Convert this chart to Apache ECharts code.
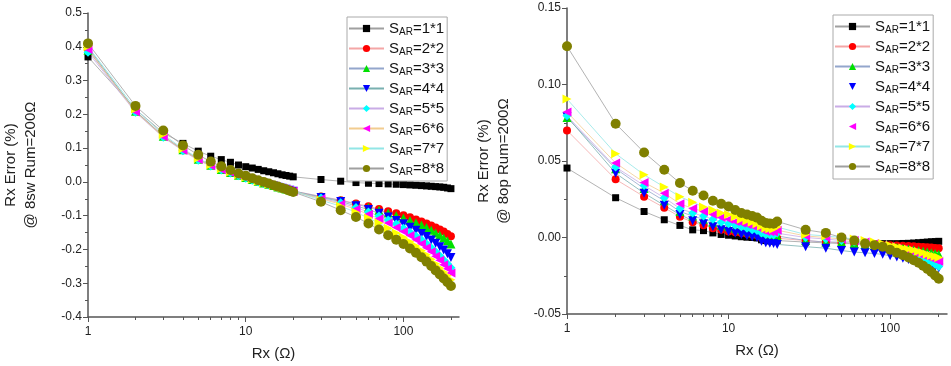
<!DOCTYPE html>
<html>
<head>
<meta charset="utf-8">
<script src="https://cdn.jsdelivr.net/npm/echarts@6/dist/echarts.min.js"></script>
<style>
  html, body { margin: 0; background: #fff; }
  #chart { width: 951px; height: 366px; }
</style>
</head>
<body>
<div id="chart"></div>
<script>
// Rx values (ohm)
const rx = [1, 2, 3, 4, 5, 6, 7, 8, 9, 10, 11, 12, 13, 14, 15, 16, 17, 18, 19, 20,
  30, 40, 50, 60, 70, 80, 90, 100, 110, 120, 130, 140, 150, 160, 170, 180, 190, 200];

const names = ["SAR=1*1", "SAR=2*2", "SAR=3*3", "SAR=4*4", "SAR=5*5", "SAR=6*6", "SAR=7*7", "SAR=8*8"];

// left chart: @ 8sw
const sw11 = [0.370, 0.215, 0.145, 0.114, 0.091, 0.076, 0.066, 0.058, 0.050, 0.045, 0.041, 0.037, 0.033, 0.030, 0.027, 0.024, 0.021, 0.019, 0.017, 0.015,
  0.007, 0.002, -0.002, -0.004, -0.005, -0.006, -0.007, -0.008, -0.009, -0.010, -0.011, -0.012, -0.013, -0.014, -0.015, -0.016, -0.018, -0.020];
const sw22 = [0.393, 0.211, 0.136, 0.096, 0.068, 0.050, 0.038, 0.029, 0.021, 0.014, 0.008, 0.003, -0.002, -0.006, -0.010, -0.014, -0.018, -0.021, -0.024, -0.027,
  -0.043, -0.054, -0.064, -0.072, -0.080, -0.087, -0.093, -0.099, -0.105, -0.111, -0.117, -0.123, -0.129, -0.135, -0.141, -0.147, -0.154, -0.161];
const sw33 = [0.390, 0.209, 0.135, 0.095, 0.067, 0.049, 0.037, 0.028, 0.020, 0.013, 0.007, 0.002, -0.003, -0.007, -0.011, -0.015, -0.018, -0.021, -0.024, -0.027,
  -0.044, -0.055, -0.066, -0.075, -0.084, -0.092, -0.100, -0.107, -0.114, -0.121, -0.128, -0.135, -0.143, -0.151, -0.158, -0.166, -0.174, -0.184];
const sw44 = [0.398, 0.210, 0.134, 0.094, 0.066, 0.048, 0.036, 0.027, 0.019, 0.012, 0.006, 0.001, -0.004, -0.008, -0.012, -0.016, -0.019, -0.022, -0.025, -0.028,
  -0.046, -0.058, -0.071, -0.082, -0.093, -0.104, -0.114, -0.124, -0.134, -0.143, -0.153, -0.162, -0.172, -0.182, -0.192, -0.202, -0.213, -0.224];
const sw55 = [0.384, 0.206, 0.132, 0.092, 0.064, 0.047, 0.035, 0.026, 0.018, 0.011, 0.005, 0.000, -0.005, -0.009, -0.013, -0.017, -0.020, -0.023, -0.026, -0.029,
  -0.048, -0.062, -0.076, -0.089, -0.101, -0.113, -0.125, -0.137, -0.149, -0.160, -0.171, -0.183, -0.195, -0.207, -0.219, -0.231, -0.242, -0.254];
const sw66 = [0.392, 0.208, 0.134, 0.094, 0.066, 0.048, 0.036, 0.027, 0.019, 0.012, 0.006, 0.001, -0.004, -0.008, -0.012, -0.016, -0.019, -0.022, -0.025, -0.028,
  -0.050, -0.066, -0.081, -0.096, -0.109, -0.122, -0.135, -0.147, -0.159, -0.171, -0.183, -0.195, -0.207, -0.220, -0.232, -0.245, -0.257, -0.270];
const sw77 = [0.401, 0.216, 0.140, 0.098, 0.070, 0.051, 0.039, 0.029, 0.021, 0.014, 0.008, 0.003, -0.002, -0.006, -0.010, -0.014, -0.018, -0.021, -0.024, -0.027,
  -0.054, -0.072, -0.090, -0.107, -0.122, -0.137, -0.151, -0.164, -0.177, -0.190, -0.203, -0.216, -0.229, -0.242, -0.255, -0.267, -0.278, -0.290];
const sw88 = [0.410, 0.225, 0.152, 0.108, 0.080, 0.060, 0.046, 0.035, 0.025, 0.018, 0.011, 0.005, 0.000, -0.005, -0.010, -0.014, -0.018, -0.022, -0.026, -0.030,
  -0.059, -0.084, -0.104, -0.123, -0.141, -0.158, -0.171, -0.184, -0.197, -0.210, -0.223, -0.236, -0.249, -0.262, -0.274, -0.286, -0.297, -0.308];

// right chart: @ 8op
const op11 = [0.0454, 0.026, 0.017, 0.0116, 0.0079, 0.005, 0.0045, 0.003, 0.002, 0.0015, 0.001, 0.0005, 0.0002, 0.0, -0.0003, -0.0015, -0.002, -0.0022, -0.0023, -0.002,
  -0.003, -0.0035, -0.004, -0.004, -0.004, -0.004, -0.004, -0.004, -0.004, -0.0039, -0.0038, -0.0036, -0.0034, -0.0032, -0.003, -0.0028, -0.0027, -0.0025];
const op22 = [0.070, 0.038, 0.0267, 0.0195, 0.0135, 0.010, 0.008, 0.006, 0.005, 0.004, 0.0035, 0.003, 0.0025, 0.002, 0.0015, 0.0, -0.001, -0.0012, -0.0013, -0.0005,
  -0.002, -0.003, -0.0035, -0.004, -0.0045, -0.0045, -0.005, -0.005, -0.0052, -0.0054, -0.0056, -0.0058, -0.006, -0.0062, -0.0064, -0.0066, -0.0068, -0.007];
const op33 = [0.0785, 0.045, 0.032, 0.024, 0.017, 0.014, 0.012, 0.010, 0.008, 0.007, 0.006, 0.005, 0.0042, 0.0035, 0.003, 0.0015, 0.0005, 0.0003, 0.0002, 0.001,
  -0.002, -0.003, -0.003, -0.004, -0.0045, -0.005, -0.0055, -0.006, -0.0065, -0.007, -0.0075, -0.008, -0.0085, -0.009, -0.0095, -0.010, -0.0105, -0.011];
const op44 = [0.079, 0.042, 0.029, 0.021, 0.015, 0.011, 0.009, 0.007, 0.005, 0.004, 0.003, 0.002, 0.0012, 0.0005, 0.0, -0.0025, -0.0035, -0.0038, -0.004, -0.0045,
  -0.006, -0.007, -0.0085, -0.0095, -0.010, -0.0105, -0.011, -0.012, -0.0128, -0.0136, -0.0144, -0.0152, -0.016, -0.0168, -0.0176, -0.0184, -0.0192, -0.020];
const op55 = [0.0795, 0.046, 0.034, 0.026, 0.019, 0.016, 0.014, 0.012, 0.010, 0.009, 0.008, 0.007, 0.006, 0.005, 0.0045, 0.003, 0.002, 0.0018, 0.0016, 0.0028,
  0.0, -0.001, -0.002, -0.003, -0.004, -0.005, -0.006, -0.007, -0.008, -0.0091, -0.0102, -0.0113, -0.0125, -0.0138, -0.015, -0.0163, -0.0176, -0.019];
const op66 = [0.082, 0.0487, 0.036, 0.029, 0.022, 0.019, 0.017, 0.015, 0.013, 0.012, 0.0105, 0.0095, 0.0085, 0.0075, 0.0068, 0.005, 0.004, 0.0038, 0.0036, 0.0048,
  0.001, 0.0, -0.001, -0.002, -0.003, -0.004, -0.005, -0.006, -0.007, -0.0079, -0.0088, -0.0098, -0.0108, -0.0118, -0.0128, -0.0138, -0.0147, -0.0156];
const op77 = [0.0905, 0.0548, 0.041, 0.033, 0.0267, 0.023, 0.020, 0.018, 0.016, 0.015, 0.0135, 0.012, 0.011, 0.010, 0.009, 0.0075, 0.006, 0.0058, 0.0055, 0.0068,
  0.002, 0.001, 0.0, -0.001, -0.002, -0.003, -0.004, -0.005, -0.006, -0.0068, -0.0076, -0.0084, -0.0092, -0.010, -0.0109, -0.0117, -0.0124, -0.013];
const op88 = [0.125, 0.0744, 0.0556, 0.0443, 0.0356, 0.0306, 0.0275, 0.024, 0.022, 0.0203, 0.018, 0.016, 0.015, 0.014, 0.013, 0.011, 0.0095, 0.0092, 0.009, 0.0105,
  0.005, 0.003, 0.0, -0.002, -0.004, -0.005, -0.006, -0.008, -0.010, -0.0115, -0.013, -0.0148, -0.0165, -0.0185, -0.0205, -0.0225, -0.0248, -0.027];

// axis ticks
const majorTicks = [1, 10, 100];
const minorTicks = [2, 3, 4, 5, 6, 7, 8, 9, 20, 30, 40, 50, 60, 70, 80, 90, 200];

const swSeries = [sw11, sw22, sw33, sw44, sw55, sw66, sw77, sw88];
const opSeries = [op11, op22, op33, op44, op55, op66, op77, op88];

// marker look per series
const marks = [
  { symbol: "rect", rotate: 0, size: 7, color: "#000000", line: "#a0a0a0" },
  { symbol: "circle", rotate: 0, size: 8, color: "#ff0000", line: "#f4a6a6" },
  { symbol: "triangle", rotate: 0, size: 9, color: "#00e000", line: "#93a6cc" },
  { symbol: "triangle", rotate: 180, size: 9, color: "#0000ff", line: "#79b0b0" },
  { symbol: "diamond", rotate: 0, size: 9, color: "#00ffff", line: "#c9ace6" },
  { symbol: "triangle", rotate: 90, size: 9, color: "#ff00ff", line: "#f2cc8f" },
  { symbol: "triangle", rotate: -90, size: 9, color: "#ffff00", line: "#92e6e6" },
  { symbol: "circle", rotate: 0, size: 10, color: "#808000", line: "#a0a0a0" }
];

const FONT = "Liberation Sans, Arial, sans-serif";

function makeSeries(list, idx) {
  return list.map((vals, i) => ({
    name: names[i],
    type: "line",
    xAxisIndex: idx * 2,
    yAxisIndex: idx,
    data: rx.map((x, j) => [x, vals[j]]),
    symbol: marks[i].symbol,
    symbolSize: marks[i].size,
    symbolRotate: marks[i].rotate,
    itemStyle: { color: marks[i].color },
    lineStyle: { color: marks[i].line, width: 0.8 },
    emphasis: { disabled: true }
  }));
}

function xAxes(gridIndex) {
  const base = {
    type: "log", gridIndex, min: 1, max: 225, logBase: 10, position: "bottom",
    splitLine: { show: false }
  };
  return [
    Object.assign({}, base, {
      axisLine: { onZero: false, lineStyle: { color: "#555", width: 1.5 } },
      axisTick: { length: 5, customValues: majorTicks, lineStyle: { color: "#555" } },
      axisLabel: { customValues: majorTicks, color: "#222", fontSize: 12, fontFamily: FONT, margin: 9 },
      name: "Rx (Ω)", nameLocation: "middle", nameGap: 29,
      nameTextStyle: { fontSize: 15, color: "#222", fontFamily: FONT }
    }),
    Object.assign({}, base, {
      axisLine: { show: false, onZero: false },
      axisTick: { length: 3, customValues: minorTicks, lineStyle: { color: "#555" } },
      axisLabel: { show: false }
    })
  ];
}

function yAxis(gridIndex, min, max, interval, digits, title, gap) {
  return {
    type: "value", gridIndex, min, max, interval,
    axisLine: { show: true, lineStyle: { color: "#555", width: 1.5 } },
    axisTick: { show: true, length: 5, lineStyle: { color: "#555" } },
    minorTick: { show: true, splitNumber: 2, length: 3, lineStyle: { color: "#555" } },
    splitLine: { show: false },
    axisLabel: { formatter: v => v.toFixed(digits), color: "#222", fontSize: 12, fontFamily: FONT, margin: 6 },
    name: title, nameLocation: "middle", nameGap: gap,
    nameTextStyle: { fontSize: 15, lineHeight: 20, color: "#222", fontFamily: FONT }
  };
}

// hideLines: legend entries drawn with marker only
function legend(left, top, hideLines) {
  return {
    orient: "vertical", left, top,
    data: names.map((n, i) => hideLines.includes(i) ? { name: n, lineStyle: { opacity: 0 } } : n),
    itemWidth: 35, itemHeight: 9, itemGap: 4,
    padding: [4, 3, 4, 1],
    borderColor: "#aaa", borderWidth: 1, backgroundColor: "#fff",
    formatter: n => "{s|S}{sub|AR}{s|" + n.slice(3) + "}",
    textStyle: {
      fontFamily: FONT,
      rich: {
        s: { fontSize: 15, lineHeight: 17, color: "#111", fontFamily: FONT },
        sub: { fontSize: 10, lineHeight: 17, color: "#111", verticalAlign: "bottom", fontFamily: FONT }
      }
    }
  };
}

const chart = echarts.init(document.getElementById("chart"), null, { renderer: "canvas" });
chart.setOption({
  animation: false,
  backgroundColor: "#fff",
  grid: [
    { left: 83, top: 13, right: 492, bottom: 49 },
    { left: 567, top: 8, right: 4, bottom: 52 }
  ],
  xAxis: [...xAxes(0), ...xAxes(1)],
  yAxis: [
    yAxis(0, -0.4, 0.5, 0.1, 1, "Rx Error (%)\n@ 8sw Rum=200Ω", 47),
    yAxis(1, -0.05, 0.15, 0.05, 2, "Rx Error (%)\n@ 8op Rum=200Ω", 53)
  ],
  legend: [legend(347, 17, []), legend(833, 15, [3, 5])],
  series: [...makeSeries(swSeries, 0), ...makeSeries(opSeries, 1)]
});
</script>
</body>
</html>
